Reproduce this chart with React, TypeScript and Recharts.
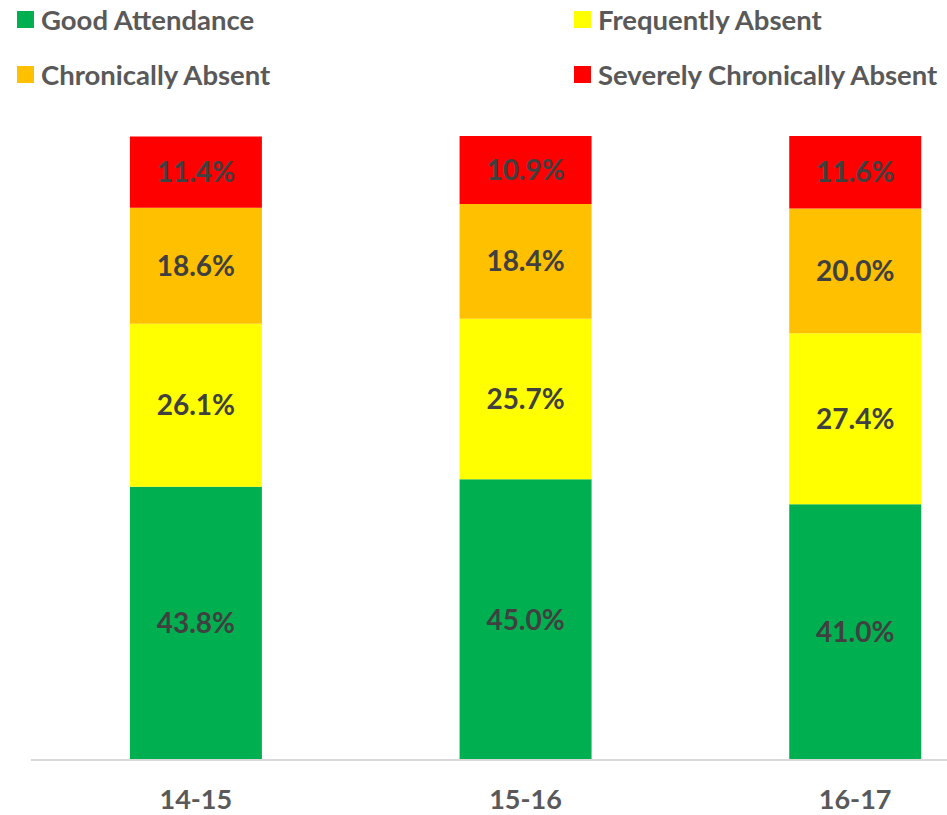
import { BarChart, Bar, XAxis, YAxis, LabelList } from 'recharts'

const years = ['14-15', '15-16', '16-17']
const good = [43.8, 45.0, 41.0]
const frequent = [26.1, 25.7, 27.4]
const chronic = [18.6, 18.4, 20.0]
const severe = [11.4, 10.9, 11.6]

const SERIES = [
  { key: 'good', name: 'Good Attendance', color: '#00B050' },
  { key: 'frequent', name: 'Frequently Absent', color: '#FFFF00' },
  { key: 'chronic', name: 'Chronically Absent', color: '#FFC000' },
  { key: 'severe', name: 'Severely Chronically Absent', color: '#FF0000' },
]

const data = years.map((year, i) => ({
  year,
  good: good[i],
  frequent: frequent[i],
  chronic: chronic[i],
  severe: severe[i],
}))

const FONT = 'Lato, "Open Sans", sans-serif'

// legend order as laid out in the picture: two columns, two rows
const LEGEND_POS = [
  { key: 'good', left: 17, top: 11 },
  { key: 'frequent', left: 574, top: 11 },
  { key: 'chronic', left: 17, top: 66 },
  { key: 'severe', left: 574, top: 66 },
]

const CategoryTick = ({ x, y, payload }: any) => (
  <text x={x} y={y + 41} textAnchor="middle" fill="#595959"
    style={{ fontFamily: FONT, fontSize: 27, fontWeight: 700 }}>
    {payload.value}
  </text>
)

export default function App() {
  return (
    <div style={{ position: 'absolute', left: 0, top: 0, width: 947, height: 815, overflow: 'hidden', background: '#fff' }}>
      {LEGEND_POS.map(({ key, left, top }) => {
        const s = SERIES.find((x) => x.key === key)!
        return (
          <div key={key} style={{ position: 'absolute', left, top, display: 'flex', alignItems: 'center', height: 17 }}>
            <span style={{ width: 17, height: 17, background: s.color, display: 'inline-block' }} />
            <span style={{ marginLeft: 7, fontFamily: FONT, fontSize: 27.5, fontWeight: 700, color: '#595959', whiteSpace: 'nowrap' }}>
              {s.name}
            </span>
          </div>
        )
      })}
      <BarChart width={1020} height={815} data={data} barCategoryGap="30%"
        margin={{ top: 136, right: 0, left: 31, bottom: 0 }}>
        <XAxis dataKey="year" height={55} tickLine={false}
          axisLine={{ stroke: '#D9D9D9', strokeWidth: 2 }} tick={<CategoryTick />} />
        <YAxis hide domain={[0, 100]} />
        {SERIES.map((s) => (
          <Bar key={s.key} dataKey={s.key} stackId="a" fill={s.color} isAnimationActive={false}>
            <LabelList dataKey={s.key} position="center"
              formatter={(v: any) => `${Number(v).toFixed(1)}%`}
              style={{ fill: '#404040', fontFamily: FONT, fontSize: 28, fontWeight: 700 }} />
          </Bar>
        ))}
      </BarChart>
    </div>
  )
}
